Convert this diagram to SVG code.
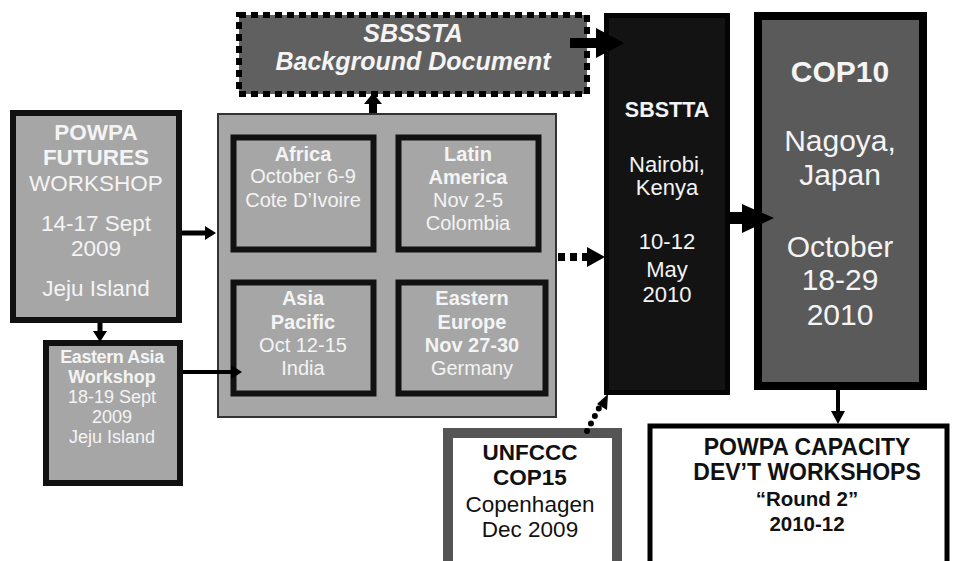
<svg xmlns="http://www.w3.org/2000/svg" width="958" height="561" viewBox="0 0 958 561">
<style>
text{font-family:"Liberation Sans",Arial,sans-serif;text-anchor:middle}
.w{fill:#f4f4f4}
.k{fill:#111}
.b{font-weight:bold}
.gray{fill:#a6a6a6;stroke:#111;stroke-width:6}
.shaft{stroke:#000;fill:none}
.head{fill:#000}
</style>
<rect width="958" height="561" fill="#fff"/>
<g id="powpa-futures">
<rect x="13" y="113" width="166" height="207" class="gray"/>
<text class="w b" x="96" y="140" font-size="22.5">POWPA</text>
<text class="w b" x="96" y="165" font-size="22.5">FUTURES</text>
<text class="w" x="96" y="191" font-size="22.5">WORKSHOP</text>
<text class="w" x="96" y="231" font-size="22.5">14-17 Sept</text>
<text class="w" x="96" y="256" font-size="22.5">2009</text>
<text class="w" x="96" y="296" font-size="22.5">Jeju Island</text>
</g>
<g id="eastern-asia">
<rect x="46" y="343" width="134" height="140" class="gray"/>
<text class="w b" x="112" y="363" font-size="18" letter-spacing="-0.4">Eastern Asia</text>
<text class="w b" x="112" y="383" font-size="18">Workshop</text>
<text class="w" x="112" y="403" font-size="18">18-19 Sept</text>
<text class="w" x="112" y="423" font-size="18">2009</text>
<text class="w" x="112" y="443" font-size="18">Jeju Island</text>
</g>
<g id="regional">
<rect x="218" y="114" width="338" height="303" fill="#a6a6a6" stroke="#333" stroke-width="2"/>
</g>
<g id="africa">
<rect x="233.5" y="137.5" width="140" height="112" class="gray" stroke-width="5"/>
<text class="w b" x="303" y="161" font-size="20">Africa</text>
<text class="w" x="303" y="183" font-size="20">October 6-9</text>
<text class="w" x="303" y="207" font-size="20">Cote D’Ivoire</text>
</g>
<g id="latin-america">
<rect x="398.5" y="137.5" width="140" height="112" class="gray" stroke-width="5"/>
<text class="w b" x="468" y="161" font-size="20">Latin</text>
<text class="w b" x="468" y="184" font-size="20">America</text>
<text class="w" x="468" y="207" font-size="20">Nov 2-5</text>
<text class="w" x="468" y="230" font-size="20">Colombia</text>
</g>
<g id="asia-pacific">
<rect x="233.5" y="282.5" width="140" height="111" class="gray" stroke-width="5"/>
<text class="w b" x="303" y="305" font-size="20">Asia</text>
<text class="w b" x="303" y="329" font-size="20">Pacific</text>
<text class="w" x="303" y="352" font-size="20">Oct 12-15</text>
<text class="w" x="303" y="375" font-size="20">India</text>
</g>
<g id="eastern-europe">
<rect x="398.5" y="282.5" width="147" height="111" class="gray" stroke-width="5"/>
<text class="w b" x="472" y="305" font-size="20">Eastern</text>
<text class="w b" x="472" y="329" font-size="20">Europe</text>
<text class="w b" x="472" y="352" font-size="20">Nov 27-30</text>
<text class="w" x="472" y="375" font-size="20">Germany</text>
</g>
<g id="sbssta-doc">
<rect x="239" y="15" width="348" height="79" fill="#606060" stroke="#000" stroke-width="6" stroke-dasharray="7 5"/>
<text class="w b" x="413" y="42" font-size="25" font-style="italic">SBSSTA</text>
<text class="w b" x="413" y="70" font-size="25" font-style="italic">Background Document</text>
</g>
<g id="sbstta">
<rect x="606.5" y="15.5" width="121" height="377" fill="#131313" stroke="#050505" stroke-width="5"/>
<text class="w b" x="667" y="117" font-size="21.5">SBSTTA</text>
<text class="w" x="667" y="172" font-size="22">Nairobi,</text>
<text class="w" x="667" y="195" font-size="22">Kenya</text>
<text class="w" x="667" y="249" font-size="22">10-12</text>
<text class="w" x="667" y="277" font-size="22">May</text>
<text class="w" x="667" y="302" font-size="22">2010</text>
</g>
<g id="cop10">
<rect x="758" y="16" width="165" height="370" fill="#5a5a5a" stroke="#000" stroke-width="8"/>
<text class="w b" x="840" y="82" font-size="30">COP10</text>
<text class="w" x="840" y="151" font-size="30">Nagoya,</text>
<text class="w" x="840" y="185" font-size="30">Japan</text>
<text class="w" x="840" y="257" font-size="30">October</text>
<text class="w" x="840" y="290" font-size="30">18-29</text>
<text class="w" x="840" y="325" font-size="30">2010</text>
</g>
<g id="unfccc">
<rect x="448" y="433" width="169" height="135" fill="#fff" stroke="#555" stroke-width="10"/>
<text class="k b" x="530" y="460" font-size="22.5">UNFCCC</text>
<text class="k b" x="530" y="485" font-size="22.5">COP15</text>
<text class="k" x="530" y="512" font-size="22.5">Copenhagen</text>
<text class="k" x="530" y="537" font-size="22.5">Dec 2009</text>
</g>
<g id="powpa-capacity">
<rect x="650" y="426" width="297" height="140" fill="#fff" stroke="#000" stroke-width="5"/>
<text class="k b" x="807" y="455" font-size="23">POWPA CAPACITY</text>
<text class="k b" x="807" y="480" font-size="23">DEV’T WORKSHOPS</text>
<text class="k b" x="807" y="506" font-size="20.5">“Round 2”</text>
<text class="k b" x="807" y="531" font-size="20.5">2010-12</text>
</g>
<g id="connectors">
<path class="shaft" d="M182 233H206" stroke-width="5"/>
<polygon class="head" points="216,233 205,226 205,240"/>
<path class="shaft" d="M100 323V332" stroke-width="5"/>
<polygon class="head" points="100,342 93,331 107,331"/>
<path class="shaft" d="M183 372H232" stroke-width="4"/>
<polygon class="head" points="242,372 231,365 231,379"/>
<path class="shaft" d="M373 113V104" stroke-width="8"/>
<polygon class="head" points="373,93 364,104 382,104"/>
<path class="shaft" d="M570 43H600" stroke-width="10"/>
<polygon class="head" points="624,43 596,28 596,58"/>
<path class="shaft" d="M558 257H588" stroke-width="8" stroke-dasharray="7 5"/>
<polygon class="head" points="605,257 587,247 587,267"/>
<path class="shaft" d="M730 218H750" stroke-width="12"/>
<polygon class="head" points="774,218 742,204 742,233"/>
<path class="shaft" d="M838 390V412" stroke-width="4"/>
<polygon class="head" points="838,424 831,411 845,411"/>
<path class="shaft" d="M587 431L599 408" stroke-width="6" stroke-dasharray="0 8.5" stroke-linecap="round"/>
<polygon class="head" points="608,394 597,404 607,410"/>
</g>
</svg>
